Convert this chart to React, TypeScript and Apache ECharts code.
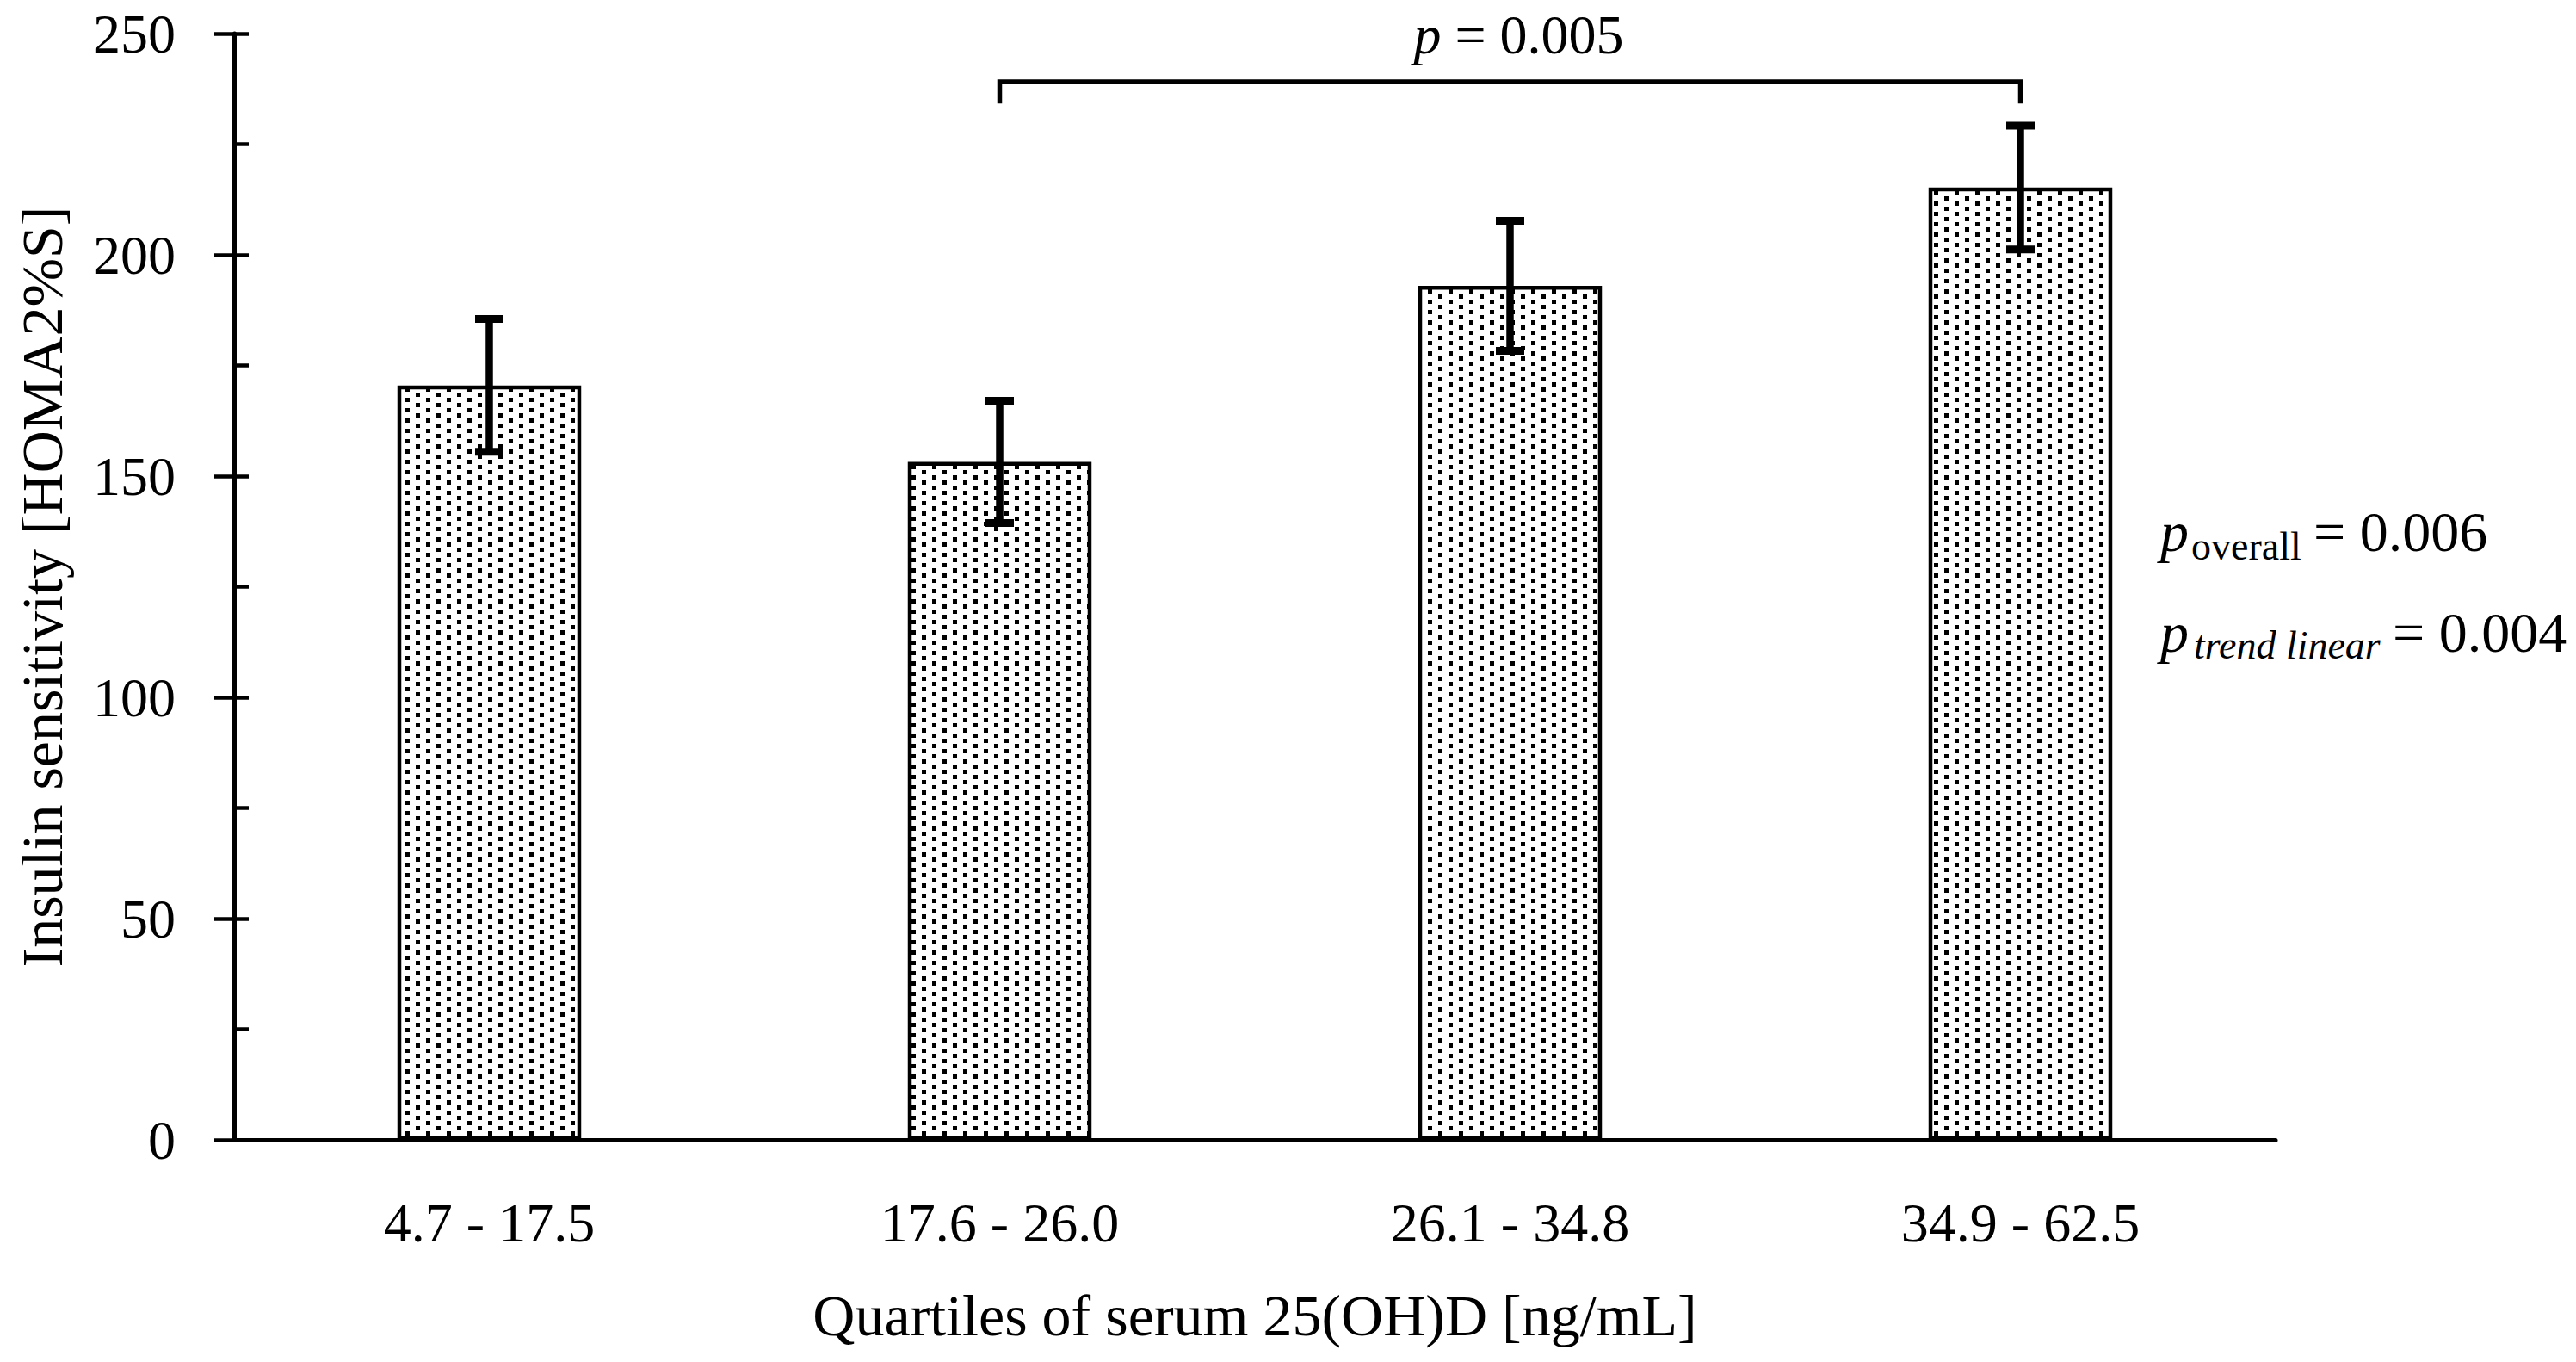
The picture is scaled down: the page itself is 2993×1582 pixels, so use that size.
import React, { useEffect, useRef } from 'react';
import * as echarts from 'echarts';

// ---- data ----
const categories = ['4.7 - 17.5', '17.6 - 26.0', '26.1 - 34.8', '34.9 - 62.5'];
const means = [170.5, 153.2, 193.0, 215.2];
const errors = [15.0, 13.8, 14.7, 14.0];
const yMin = 0;
const yMax = 250;
const yInterval = 50;
const bracketFrom = 1;
const bracketTo = 3;
const bracketTop = 239.1;
const bracketFoot = 234.2;
const bracketP = '0.005';
const pOverall = '0.006';
const pTrendLinear = '0.004';

const yName = 'Insulin sensitivity [HOMA2%S]';
const xName = 'Quartiles of serum 25(OH)D [ng/mL]';

const FONT = '"Liberation Serif", "Times New Roman", Times, serif';

function makeDotPattern() {
  const c = document.createElement('canvas');
  c.width = 24;
  c.height = 12;
  const ctx = c.getContext('2d');
  if (ctx) {
    ctx.fillStyle = '#ffffff';
    ctx.fillRect(0, 0, 24, 12);
    ctx.fillStyle = '#000000';
    ctx.fillRect(3, 0, 5, 5);
    ctx.fillRect(15, 6, 5, 5);
  }
  return { image: c.toDataURL(), repeat: 'repeat', imageWidth: 24, imageHeight: 12 };
}

export default function App() {
  const ref = useRef<HTMLDivElement>(null);

  useEffect(() => {
    document.body.style.margin = '0';
    if (!ref.current) return;
    const chart = echarts.init(ref.current, null, { renderer: 'svg' });
    const black = '#000000';
    const tickStyle = { color: black, width: 4.5 };

    const option: any = {
      animation: false,
      backgroundColor: '#ffffff',
      grid: { left: 272, top: 39, width: 2372, height: 1285, containLabel: false },
      xAxis: {
        type: 'category',
        data: categories,
        boundaryGap: true,
        name: xName,
        nameLocation: 'middle',
        nameGap: 170,
        nameTextStyle: { fontFamily: FONT, fontSize: 68, color: black },
        axisLine: { show: true, lineStyle: { color: black, width: 5 } },
        axisTick: { show: false },
        axisLabel: { margin: 64, fontFamily: FONT, fontSize: 64, color: black },
        splitLine: { show: false },
      },
      yAxis: [
        {
          type: 'value',
          min: yMin,
          max: yMax,
          interval: yInterval,
          position: 'left',
          name: yName,
          nameLocation: 'middle',
          nameGap: 189,
          nameRotate: 90,
          nameTextStyle: { fontFamily: FONT, fontSize: 68, color: black },
          axisLine: { show: true, lineStyle: { color: black, width: 5 } },
          axisTick: { show: true, inside: false, length: 23, lineStyle: tickStyle },
          axisLabel: { margin: 68, fontFamily: FONT, fontSize: 64, color: black },
          splitLine: { show: false },
        },
        {
          type: 'value',
          min: yMin,
          max: yMax,
          interval: yInterval,
          position: 'left',
          axisLine: { show: false },
          axisTick: { show: true, inside: true, length: 17, lineStyle: tickStyle },
          minorTick: { show: true, splitNumber: 2, length: 17, lineStyle: tickStyle },
          axisLabel: { show: false },
          splitLine: { show: false },
        },
      ],
      series: [
        {
          type: 'bar',
          data: means,
          barWidth: '36%',
          yAxisIndex: 0,
          itemStyle: { color: makeDotPattern(), borderColor: black, borderWidth: 4.5 },
          z: 2,
        },
        {
          type: 'custom',
          yAxisIndex: 0,
          data: means.map((m, i) => [i, m - errors[i], m + errors[i]]),
          encode: { x: 0, y: [1, 2] },
          z: 5,
          renderItem: (params: any, api: any) => {
            const x = api.value(0);
            const lo = api.coord([x, api.value(1)]);
            const hi = api.coord([x, api.value(2)]);
            const hw = 16.5;
            const stem = { stroke: black, lineWidth: 8.5, fill: 'none' };
            const cap = { stroke: black, lineWidth: 9, fill: 'none' };
            return {
              type: 'group',
              children: [
                { type: 'line', shape: { x1: lo[0], y1: lo[1], x2: hi[0], y2: hi[1] }, style: stem },
                { type: 'line', shape: { x1: hi[0] - hw, y1: hi[1], x2: hi[0] + hw, y2: hi[1] }, style: cap },
                { type: 'line', shape: { x1: lo[0] - hw, y1: lo[1], x2: lo[0] + hw, y2: lo[1] }, style: cap },
              ],
            };
          },
        },
        {
          type: 'custom',
          yAxisIndex: 0,
          data: [[bracketFrom, bracketTo, bracketTop, bracketFoot]],
          encode: { x: [0, 1], y: [2, 3] },
          z: 5,
          renderItem: (params: any, api: any) => {
            const a = api.coord([api.value(0), api.value(2)]);
            const b = api.coord([api.value(1), api.value(2)]);
            const foot = api.coord([api.value(0), api.value(3)]);
            return {
              type: 'group',
              children: [
                {
                  type: 'polyline',
                  shape: { points: [[a[0], foot[1]], [a[0], a[1]], [b[0], b[1]], [b[0], foot[1]]] },
                  style: { stroke: black, lineWidth: 5.5, fill: 'none' },
                },
                {
                  type: 'text',
                  x: (a[0] + b[0]) / 2 + 10,
                  y: a[1] - 55,
                  style: {
                    text: '{i|p} = ' + bracketP,
                    rich: { i: { fontStyle: 'italic', fontSize: 64, fontFamily: FONT, fill: black } },
                    fontSize: 64,
                    fontFamily: FONT,
                    fill: black,
                    align: 'center',
                    verticalAlign: 'middle',
                  },
                },
              ],
            };
          },
        },
      ],
      graphic: [
        { type: 'text', left: 2510, top: 584, style: { text: 'p', fontStyle: 'italic', fontSize: 66, fontFamily: FONT, fill: black } },
        { type: 'text', left: 2546, top: 611, style: { text: 'overall', fontSize: 46, fontFamily: FONT, fill: black } },
        { type: 'text', left: 2688, top: 584, style: { text: '= ' + pOverall, fontSize: 66, fontFamily: FONT, fill: black } },
        { type: 'text', left: 2510, top: 701, style: { text: 'p', fontStyle: 'italic', fontSize: 66, fontFamily: FONT, fill: black } },
        { type: 'text', left: 2549, top: 726, style: { text: 'trend linear', fontStyle: 'italic', fontSize: 46, fontFamily: FONT, fill: black } },
        { type: 'text', left: 2780, top: 701, style: { text: '= ' + pTrendLinear, fontSize: 66, fontFamily: FONT, fill: black } },
      ],
    };

    chart.setOption(option);
    return () => {
      chart.dispose();
    };
  }, []);

  return (
    <div
      ref={ref}
      style={{ position: 'fixed', left: 0, top: 0, width: '2993px', height: '1582px', background: '#fff' }}
    />
  );
}
